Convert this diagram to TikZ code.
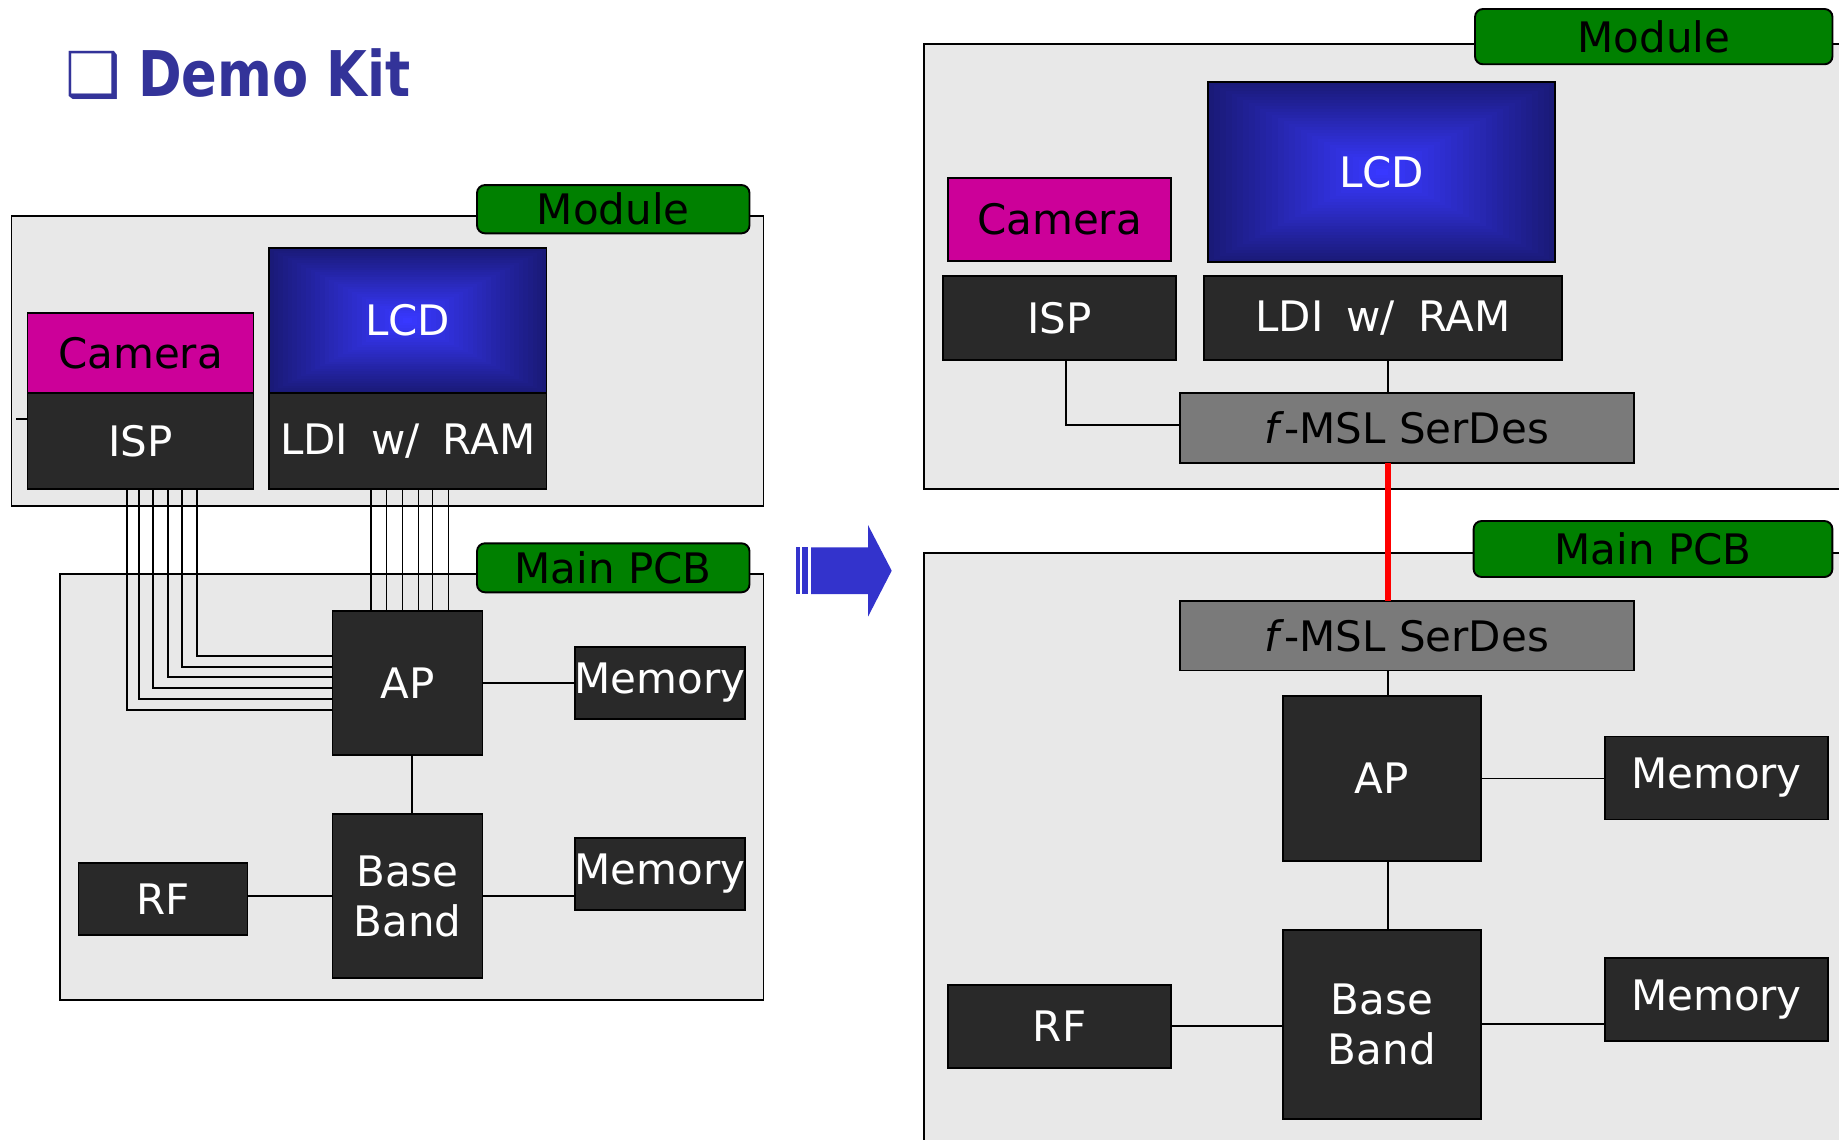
\documentclass[tikz,border=0pt]{standalone}
\usepackage{graphicx}
\usepackage{fontspec}
\setmainfont{DejaVu Sans}
\usetikzlibrary{calc}
\definecolor{titleblue}{HTML}{333399}
\definecolor{boardgray}{HTML}{E8E8E8}
\definecolor{chipdark}{HTML}{292929}
\definecolor{labelgreen}{HTML}{008000}
\definecolor{cammag}{HTML}{CC0099}
\definecolor{serdesgray}{HTML}{7A7A7A}
\definecolor{lcdin}{HTML}{3838FF}
\definecolor{lcdout}{HTML}{1A1A78}
\definecolor{arrowblue}{HTML}{3333CC}
\definecolor{linkred}{HTML}{FF0000}
\begin{document}
\begin{tikzpicture}[x=1pt,y=-1pt,
  every node/.style={inner sep=0pt, outer sep=0pt, font=\fontsize{42}{50}\selectfont},
  board/.style={draw=black, line width=1.9pt, fill=boardgray},
  tag/.style={draw=black, line width=1.9pt, fill=labelgreen, rounded corners=8pt, text=black},
  chip/.style={draw=black, line width=1.9pt, fill=chipdark, text=white, align=center},
  cam/.style={draw=black, line width=1.9pt, fill=cammag, text=black},
  serdes/.style={draw=black, line width=1.9pt, fill=serdesgray, text=black},
  lcd/.style={draw=black, line width=1.9pt, text=white, fill=lcdout,
    path picture={
      \foreach \k in {0,...,29}{
        \pgfmathsetmacro{\lcdf}{\k/60}
        \pgfmathsetmacro{\lcdp}{100*\k/29}
        \fill[lcdin!\lcdp!lcdout]
          ($(path picture bounding box.south west)!\lcdf!(path picture bounding box.north east)$)
          rectangle
          ($(path picture bounding box.north east)!\lcdf!(path picture bounding box.south west)$);
      }
    }},
  wire/.style={draw=black, line width=1.9pt},
  redlink/.style={draw=linkred, line width=6pt},
  sz/.style 2 args={minimum width=#1pt, minimum height=#2pt},
]
\clip (0,0) rectangle (1839,1140);

% title
\node[anchor=base west, text=titleblue, font=\fontsize{62}{72}\selectfont] (titlebox) at (65,96) {❑};
\node[anchor=base west, text=titleblue, font=\fontsize{63}{72}\selectfont\bfseries] (title) at (138,96) {\scalebox{0.835}[1]{Demo Kit}};

% ---------------- left: before ----------------
\node[board, sz={752}{290}] (modL) at (387.5,360.7) {};
\node[board, sz={703.5}{426.4}] (pcbL) at (411.75,787.2) {};
\node[tag, sz={272.5}{48.3}] (tagModL) at (613.25,209.2) {Module};
\node[tag, sz={272.5}{49}] (tagPcbL) at (613.25,567.8) {Main PCB};

\node[cam, sz={226}{80}] (camL) at (140.5,353) {Camera};
\node[chip, sz={226}{96}] (ispL) at (140.5,441) {ISP};
\node[lcd, sz={277.5}{144.7}] (lcdL) at (407.75,320.65) {LCD};
\node[chip, sz={277.5}{96}] (ldiL) at (407.75,441) {LDI\hspace{0.55em}w/\hspace{0.55em}RAM};

\node[chip, sz={150}{144}] (apL) at (407.5,683) {AP};
\node[chip, sz={170}{72.6}] (memL1) at (660,683) {Memory};
\node[chip, sz={150}{164}] (bbL) at (407.5,896) {Base\\Band};
\node[chip, sz={170}{72}] (memL2) at (660,874) {Memory};
\node[chip, sz={169}{72}] (rfL) at (163,899) {RF};

\coordinate (stubL) at (16,419);
\draw[wire] (stubL) -- (stubL -| ispL.west);
\foreach \bx/\by in {127/710,139/699,153/688,168/677,182/667,197/656}{
  \coordinate (bt) at (\bx,\by);
  \draw[wire] (ispL.south -| bt) |- (apL.west |- bt);
}
\foreach \bx in {371,386.5,402.5,418.5,432.5,448.5}{
  \coordinate (bt) at (\bx,0);
  \draw[wire] (ldiL.south -| bt) -- (apL.north -| bt);
}
\coordinate (apbbL) at (412,0);
\draw[wire] (apL.east) -- (apL.east -| memL1.west);
\draw[wire] (apL.south -| apbbL) -- (bbL.north -| apbbL);
\draw[wire] (bbL.west -| rfL.east) -- (bbL.west);
\draw[wire] (bbL.east) -- (bbL.east -| memL2.west);

% ---------------- arrow ----------------
\fill[arrowblue] (796,547.3) rectangle (800,594);
\fill[arrowblue] (802,547.3) rectangle (808,594);
\fill[arrowblue] (811,547.3) -- (868,547.3) -- (868,525) -- (891.7,570.7)
  -- (868,616.7) -- (868,594) -- (811,594) -- cycle;

% ---------------- right: after ----------------
\node[board, sz={976}{445.3}] (modR) at (1412,266.65) {};
\node[board, sz={976}{647}] (pcbR) at (1412,876.5) {};
\node[tag, sz={357.5}{55.3}] (tagModR) at (1653.75,36.65) {Module};
\node[tag, sz={358.8}{56}] (tagPcbR) at (1653,549) {Main PCB};

\node[cam, sz={223}{83.6}] (camR) at (1059.5,219.5) {Camera};
\node[lcd, sz={346.8}{180.3}] (lcdR) at (1381.8,171.85) {LCD};
\node[chip, sz={233}{84}] (ispR) at (1059.5,318) {ISP};
\node[chip, sz={358.8}{84}] (ldiR) at (1383,318) {LDI\hspace{0.55em}w/\hspace{0.55em}RAM};
\node[serdes, sz={453.9}{69.4}] (serR) at (1406.65,428) {\textit{f}-MSL SerDes};

\node[serdes, sz={453.9}{69.5}] (serB) at (1406.65,635.75) {\textit{f}-MSL SerDes};
\node[chip, sz={198.3}{165}] (apR) at (1381.85,778.5) {AP};
\node[chip, sz={222.8}{83}] (memR1) at (1716.4,778) {Memory};
\node[chip, sz={198.3}{189.4}] (bbR) at (1381.85,1024.3) {Base\\Band};
\node[chip, sz={222.8}{83.2}] (memR2) at (1716.4,999.4) {Memory};
\node[chip, sz={223}{83.3}] (rfR) at (1059.5,1026.35) {RF};

\coordinate (busx) at (1388,0);
\coordinate (ispx) at (1066,425);
\draw[wire] (ispR.south -| ispx) |- (serR.west |- ispx);
\draw[wire] (ldiR.south -| busx) -- (serR.north -| busx);
\draw[redlink] (serR.south -| busx) -- (serB.north -| busx);
\draw[wire] (serB.south -| busx) -- (apR.north -| busx);
\draw[wire] (apR.south -| busx) -- (bbR.north -| busx);
\draw[wire] (apR.east) -- (apR.east -| memR1.west);
\draw[wire] (rfR.east) -- (rfR.east -| bbR.west);
\draw[wire] (bbR.east) -- (bbR.east -| memR2.west);
\end{tikzpicture}
\end{document}
